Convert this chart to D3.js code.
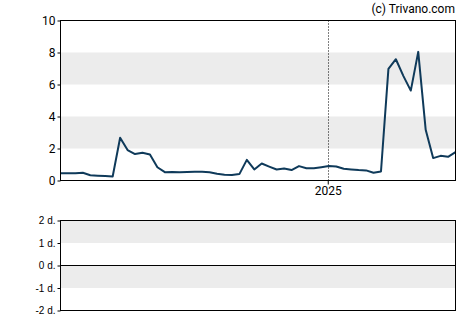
<!DOCTYPE html>
<html>
<head>
<meta charset="utf-8">
<script src="https://cdn.jsdelivr.net/npm/d3@7"></script>
<style>
  body { margin: 0; background: #fff; }
  text { font-family: Roboto, "Liberation Sans", Arial, sans-serif; }
</style>
</head>
<body>
<script>
// weekly closes, late April 2024 .. end of April 2025
const startDate = "2024-04-25";
const prices = [0.46, 0.46, 0.45, 0.48, 0.33, 0.30, 0.28, 0.25, 2.67, 1.90,
                1.65, 1.73, 1.62, 0.83, 0.52, 0.53, 0.52, 0.53, 0.54, 0.54,
                0.52, 0.42, 0.36, 0.35, 0.40, 1.29, 0.69, 1.06, 0.87, 0.69,
                0.75, 0.65, 0.90, 0.77, 0.77, 0.83, 0.90, 0.87, 0.73, 0.69,
                0.65, 0.63, 0.48, 0.56, 6.98, 7.58, 6.54, 5.62, 8.04, 3.17,
                1.40, 1.54, 1.48, 1.77];
const yTicks = [0, 2, 4, 6, 8, 10];
const yBands = [[2, 4], [6, 8]];
const xTicks = ["2025-01-01"];
const lowerTicks = [2, 1, 0, -1, -2];
const lowerBands = [[1, 2], [-1, 0]];

const width = 470, height = 325;
const left = 60.5, right = 455.5;

const parse = d3.utcParse("%Y-%m-%d");
const t0 = parse(startDate);
const data = prices.map((v, i) => ({date: d3.utcDay.offset(t0, 7 * i), value: v}));

const svg = d3.select("body").append("svg")
  .attr("width", width).attr("height", height);

const x = d3.scaleUtc()
  .domain(d3.extent(data, d => d.date))
  .range([left, right]);

const y = d3.scaleLinear().domain([0, 10]).range([180.5, 20.5]);

// bands
svg.append("g").selectAll("rect")
  .data(yBands).enter().append("rect")
  .attr("x", left).attr("width", right - left)
  .attr("y", d => y(d[1])).attr("height", d => y(d[0]) - y(d[1]))
  .style("fill", "#ececec");

// 2025 dotted line
svg.append("g").selectAll("line")
  .data(xTicks).enter().append("line")
  .attr("x1", d => Math.round(x(parse(d))) + 0.5)
  .attr("x2", d => Math.round(x(parse(d))) + 0.5)
  .attr("y1", y(10)).attr("y2", y(0))
  .style("stroke", "#000").style("stroke-dasharray", "1,2");

const line = d3.line().x(d => x(d.date)).y(d => y(d.value));
svg.append("path")
  .datum(data)
  .attr("d", line)
  .style("fill", "none")
  .style("stroke", "#0f3a5a")
  .style("stroke-width", 2)
  .style("stroke-linejoin", "round");

svg.append("rect")
  .attr("x", left).attr("y", y(10))
  .attr("width", right - left).attr("height", y(0) - y(10))
  .style("fill", "none").style("stroke", "#000");

svg.append("g")
  .attr("transform", `translate(${left},0)`)
  .call(d3.axisLeft(y).tickValues(yTicks).tickSize(3).tickPadding(2))
  .call(g => g.select(".domain").remove())
  .call(g => g.selectAll("text").style("font-size", "12px").style("fill", "#000"));

svg.append("g")
  .attr("transform", `translate(0,${y(0)})`)
  .call(d3.axisBottom(x).tickValues(xTicks.map(parse)).tickFormat(d3.utcFormat("%Y")).tickSize(4).tickPadding(2))
  .call(g => g.select(".domain").remove())
  .call(g => g.selectAll("text").style("font-size", "12px").style("fill", "#000"));

svg.append("text")
  .attr("x", 455).attr("y", 13)
  .attr("text-anchor", "end")
  .style("font-size", "12px")
  .text("(c) Trivano.com");

// lower panel
const y2 = d3.scaleLinear().domain([-2, 2]).range([310.5, 220.5]);

svg.append("g").selectAll("rect")
  .data(lowerBands).enter().append("rect")
  .attr("x", left).attr("width", right - left)
  .attr("y", d => y2(d[1])).attr("height", d => y2(d[0]) - y2(d[1]))
  .style("fill", "#ececec");

svg.append("line")
  .attr("x1", left).attr("x2", right)
  .attr("y1", y2(0)).attr("y2", y2(0))
  .style("stroke", "#000");

svg.append("rect")
  .attr("x", left).attr("y", y2(2))
  .attr("width", right - left).attr("height", y2(-2) - y2(2))
  .style("fill", "none").style("stroke", "#000");

svg.append("g")
  .attr("transform", `translate(${left},0)`)
  .call(d3.axisLeft(y2).tickValues(lowerTicks).tickFormat(d => d + " d.").tickSize(3).tickPadding(2))
  .call(g => g.select(".domain").remove())
  .call(g => g.selectAll("text").style("font-size", "10px").style("fill", "#000")
    .style("font-family", "'Liberation Sans', Arial, sans-serif"));
</script>
</body>
</html>
